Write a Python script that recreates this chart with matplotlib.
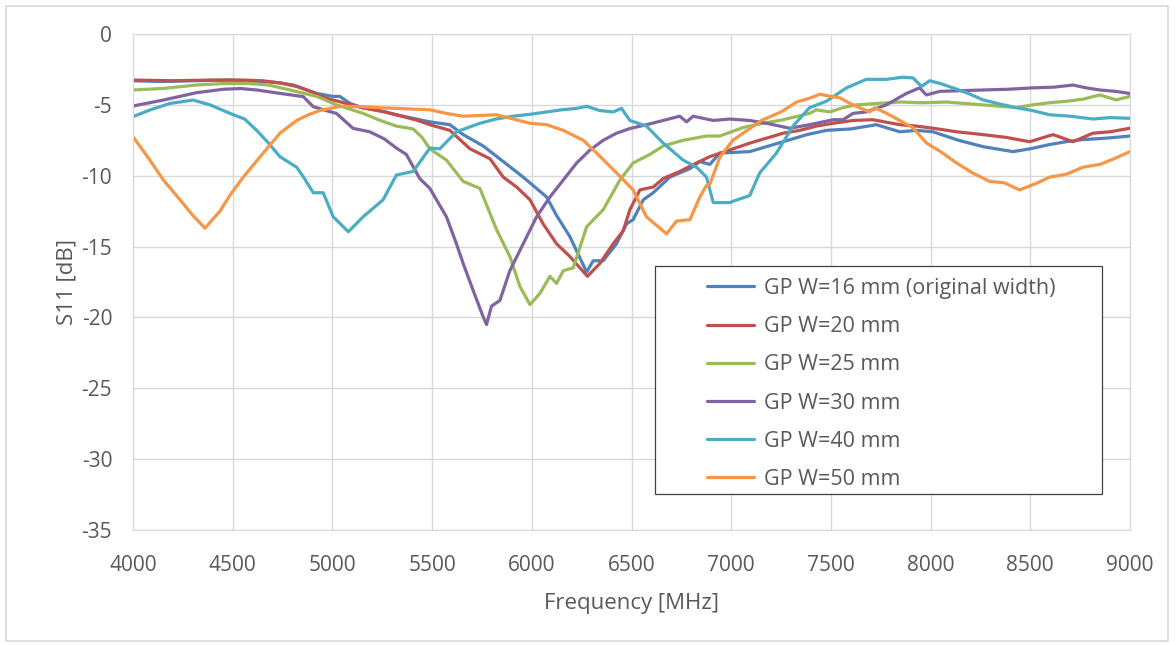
#! /usr/bin/env python3

"""
S11 versus frequency for several ground plane widths.
"""

import matplotlib.pyplot as plt
from matplotlib.patches import Rectangle

# data (frequency in MHz, S11 in dB)
F_W16 = [4000, 4150, 4300, 4486, 4650, 4737, 4803, 4921, 5000, 5037, 5088, 5150, 5254, 5320, 5421,
         5489, 5589, 5656, 5756, 5857, 5957, 6024, 6074, 6124, 6191, 6275, 6308, 6358, 6425, 6475,
         6508, 6559, 6609, 6692, 6793, 6843, 6893, 6943, 7093, 7260, 7380, 7477, 7600, 7728, 7845,
         7930, 8012, 8140, 8263, 8413, 8500, 8597, 8680, 8764, 8880, 9000]
S_W16 = [-3.3, -3.35, -3.3, -3.25, -3.35, -3.45, -3.6, -4.19, -4.4, -4.4, -4.9, -5.2, -5.45, -5.7, -6.0,
         -6.2, -6.4, -7.1, -7.9, -9.0, -10.1, -10.9, -11.5, -12.8, -14.3, -16.8, -16.0, -16.0, -14.8, -13.4,
         -13.1, -11.7, -11.2, -10.1, -9.5, -9.0, -9.2, -8.4, -8.3, -7.6, -7.1, -6.8, -6.7, -6.4, -6.9,
         -6.8, -6.9, -7.5, -7.95, -8.3, -8.1, -7.8, -7.6, -7.45, -7.35, -7.2]

F_W20 = [4000, 4200, 4400, 4550, 4650, 4737, 4821, 4900, 4960, 5070, 5150, 5254, 5320, 5421, 5489,
         5589, 5690, 5790, 5857, 5924, 5991, 6057, 6124, 6191, 6279, 6341, 6408, 6458, 6492, 6542,
         6609, 6659, 6742, 6826, 6893, 7010, 7093, 7177, 7260, 7344, 7427, 7511, 7611, 7711, 7845,
         7930, 8012, 8130, 8263, 8380, 8497, 8614, 8714, 8814, 8900, 9000]
S_W20 = [-3.25, -3.3, -3.25, -3.25, -3.3, -3.45, -3.7, -4.1, -4.5, -4.9, -5.2, -5.48, -5.7, -6.07, -6.4,
         -6.8, -8.1, -8.8, -10.1, -10.8, -11.7, -13.4, -14.8, -15.7, -17.1, -16.2, -14.8, -13.9, -12.4, -11.0,
         -10.8, -10.2, -9.7, -9.1, -8.65, -8.1, -7.7, -7.35, -7.0, -6.8, -6.5, -6.3, -6.1, -6.05, -6.4,
         -6.5, -6.65, -6.9, -7.1, -7.3, -7.6, -7.1, -7.6, -7.0, -6.9, -6.65]

F_W25 = [4000, 4152, 4319, 4450, 4570, 4680, 4787, 4921, 5020, 5154, 5240, 5321, 5405, 5450, 5489,
         5572, 5656, 5740, 5823, 5890, 5940, 5991, 6041, 6091, 6124, 6158, 6208, 6275, 6358, 6442,
         6508, 6592, 6659, 6759, 6876, 6943, 7060, 7160, 7260, 7393, 7427, 7494, 7560, 7628, 7730,
         7845, 7960, 8079, 8170, 8263, 8350, 8430, 8510, 8597, 8680, 8764, 8848, 8931, 9000]
S_W25 = [-3.95, -3.84, -3.6, -3.5, -3.48, -3.6, -3.95, -4.4, -5.0, -5.6, -6.1, -6.5, -6.7, -7.3, -8.1,
         -8.9, -10.4, -10.9, -13.8, -15.7, -17.8, -19.1, -18.3, -17.1, -17.6, -16.7, -16.5, -13.6, -12.4, -10.3,
         -9.1, -8.5, -7.9, -7.5, -7.2, -7.2, -6.6, -6.3, -6.05, -5.6, -5.35, -5.5, -5.2, -5.0, -4.9,
         -4.8, -4.85, -4.8, -4.9, -5.0, -5.1, -5.2, -5.0, -4.85, -4.75, -4.6, -4.3, -4.65, -4.4]

F_W30 = [4000, 4152, 4319, 4453, 4540, 4620, 4737, 4854, 4904, 4987, 5020, 5104, 5187, 5260, 5321,
         5371, 5438, 5489, 5572, 5622, 5656, 5706, 5756, 5773, 5798, 5840, 5890, 5957, 6024, 6091,
         6158, 6225, 6291, 6358, 6425, 6492, 6575, 6659, 6742, 6776, 6809, 6910, 6993, 7093, 7177,
         7294, 7393, 7511, 7561, 7611, 7678, 7778, 7878, 7945, 7979, 8045, 8150, 8263, 8390, 8513,
         8620, 8714, 8780, 8848, 8930, 9000]
S_W30 = [-5.08, -4.66, -4.14, -3.9, -3.85, -3.95, -4.19, -4.42, -5.13, -5.48, -5.6, -6.66, -6.9, -7.4, -8.05,
         -8.5, -10.2, -10.9, -12.9, -14.8, -16.2, -18.1, -19.95, -20.5, -19.2, -18.8, -16.7, -14.8, -12.9, -11.5,
         -10.3, -9.1, -8.2, -7.5, -7.0, -6.67, -6.4, -6.1, -5.8, -6.2, -5.8, -6.1, -6.0, -6.1, -6.3,
         -6.65, -6.4, -6.05, -6.05, -5.6, -5.5, -5.0, -4.2, -3.8, -4.3, -4.05, -4.0, -3.95, -3.9, -3.8,
         -3.75, -3.6, -3.8, -3.95, -4.05, -4.2]

F_W40 = [4000, 4085, 4186, 4301, 4386, 4486, 4560, 4620, 4680, 4737, 4821, 4860, 4904, 4954, 5004,
         5080, 5154, 5254, 5321, 5405, 5489, 5539, 5622, 5740, 5820, 5907, 6000, 6074, 6150, 6225,
         6275, 6340, 6408, 6450, 6492, 6575, 6659, 6759, 6826, 6876, 6910, 6993, 7010, 7093, 7143,
         7227, 7310, 7393, 7477, 7578, 7678, 7778, 7860, 7912, 7954, 7995, 8050, 8112, 8190, 8263,
         8350, 8430, 8510, 8597, 8700, 8814, 8900, 9000]
S_W40 = [-5.83, -5.36, -4.9, -4.66, -5.0, -5.6, -6.0, -6.8, -7.7, -8.66, -9.4, -10.2, -11.2, -11.2, -12.9,
         -13.95, -12.9, -11.7, -9.95, -9.7, -8.05, -8.1, -6.9, -6.3, -6.0, -5.8, -5.65, -5.5, -5.35, -5.25,
         -5.1, -5.4, -5.5, -5.25, -6.1, -6.5, -7.7, -8.9, -9.4, -10.1, -11.9, -11.9, -11.8, -11.4, -9.8,
         -8.4, -6.5, -5.2, -4.75, -3.8, -3.2, -3.2, -3.05, -3.1, -3.7, -3.3, -3.5, -3.8, -4.2, -4.65,
         -4.95, -5.2, -5.4, -5.7, -5.8, -6.0, -5.9, -5.95]

F_W50 = [4000, 4080, 4152, 4236, 4300, 4361, 4436, 4490, 4553, 4653, 4737, 4821, 4880, 4937, 5040,
         5155, 5240, 5322, 5405, 5489, 5570, 5656, 5740, 5823, 5907, 5991, 6075, 6158, 6258, 6325,
         6425, 6508, 6575, 6676, 6726, 6793, 6843, 6875, 6893, 6943, 7008, 7080, 7152, 7250, 7328,
         7400, 7444, 7500, 7544, 7610, 7694, 7719, 7780, 7845, 7910, 7980, 8050, 8130, 8210, 8296,
         8370, 8446, 8520, 8597, 8680, 8764, 8850, 8920, 9000]
S_W50 = [-7.25, -8.8, -10.3, -11.7, -12.8, -13.7, -12.5, -11.3, -10.1, -8.4, -7.0, -6.1, -5.7, -5.4, -5.1,
         -5.13, -5.2, -5.25, -5.3, -5.35, -5.6, -5.8, -5.75, -5.7, -6.0, -6.3, -6.4, -6.8, -7.5, -8.4,
         -9.8, -11.0, -12.9, -14.1, -13.2, -13.1, -11.5, -10.7, -10.6, -8.7, -7.5, -6.8, -6.1, -5.5, -4.8,
         -4.5, -4.25, -4.4, -4.5, -5.0, -5.5, -5.2, -5.6, -6.1, -6.6, -7.7, -8.3, -9.1, -9.8, -10.4,
         -10.5, -11.0, -10.6, -10.1, -9.9, -9.4, -9.2, -8.8, -8.3]

SERIES = [
    (F_W16, S_W16, 'GP W=16 mm (original width)', '#4F81BD'),
    (F_W20, S_W20, 'GP W=20 mm', '#C0504D'),
    (F_W25, S_W25, 'GP W=25 mm', '#9BBB59'),
    (F_W30, S_W30, 'GP W=30 mm', '#8064A2'),
    (F_W40, S_W40, 'GP W=40 mm', '#4BACC6'),
    (F_W50, S_W50, 'GP W=50 mm', '#F79646'),
]

TEXT_COLOR = '#595959'
GRID_COLOR = '#D9D9D9'


def main() -> None:
    """Main entry-point for script"""
    plt.rcParams['font.family'] = ['Open Sans', 'DejaVu Sans']
    plt.rcParams['axes.unicode_minus'] = False

    fig = plt.figure(figsize=(11.76, 6.45), dpi=100)
    ax = fig.add_axes([133 / 1176, 1 - 530 / 645, 997 / 1176, 496 / 645])

    # chart area border
    fig.patches.append(Rectangle((6 / 1176, 4 / 645), 1162 / 1176, 635 / 645, transform=fig.transFigure,
                                 fill=False, edgecolor=GRID_COLOR, linewidth=1.2))

    for freq, s11, label, color in SERIES:
        ax.plot(freq, s11, color=color, linewidth=2.3, label=label, solid_capstyle='round')

    ax.set_xlim(4000, 9000)
    ax.set_ylim(-35, 0)
    ax.set_xticks(range(4000, 9001, 500))
    ax.set_yticks(range(-35, 1, 5))
    ax.grid(visible=True, color=GRID_COLOR, linewidth=1.0)
    ax.set_axisbelow(True)
    for spine in ax.spines.values():
        spine.set_color(GRID_COLOR)
    ax.tick_params(length=0, labelsize=15, labelcolor=TEXT_COLOR)
    ax.tick_params(axis='x', pad=18)
    ax.tick_params(axis='y', pad=15)

    ax.set_xlabel('Frequency [MHz]', fontsize=16, color=TEXT_COLOR, labelpad=12)
    ax.set_ylabel('S11 [dB]', fontsize=16, color=TEXT_COLOR, labelpad=3)

    # legend box drawn separately so it matches the reference size
    ax.add_patch(Rectangle((0.5236, 0.0726), 0.4485, 0.4595, transform=ax.transAxes,
                           facecolor='white', edgecolor='#404040', linewidth=0.9, zorder=5))
    ax.legend(loc='upper left', bbox_to_anchor=(0.565, 0.53), frameon=False, fontsize=15.5,
              handlelength=2.2, handletextpad=0.45, labelspacing=0.8, borderpad=0.0,
              labelcolor=TEXT_COLOR).set_zorder(6)

    fig.savefig('out.png')


if __name__ == '__main__':
    main()
